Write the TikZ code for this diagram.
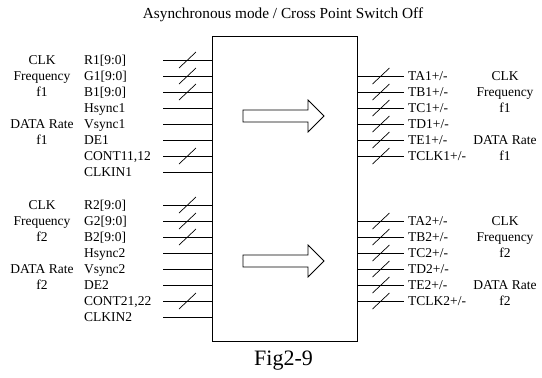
\documentclass[tikz,border=0pt]{standalone}
\usepackage{fontspec}
\setmainfont{Liberation Serif}
\begin{document}
\begin{tikzpicture}[x=1pt,y=-1pt,
  lbl/.style={inner sep=0pt,font=\fontsize{13.5}{15}\selectfont},
  wire/.style={line width=0.8pt},
  bus/.style={line width=0.7pt},
  chipbox/.style={draw,line width=0.9pt,minimum width=145pt,minimum height=305pt,inner sep=0pt},
  blockarrow/.style={draw,line width=0.8pt,fill=white}]
\useasboundingbox (0,0) rectangle (542,378);
% title
\node[inner sep=0pt,font=\fontsize{15.3}{17}\selectfont,anchor=base] (title) at (283,18.5) {Asynchronous mode / Cross Point Switch Off};
% chip
\node[chipbox,anchor=north west] (chip) at (211.5,36) {};
% caption
\node[inner sep=0pt,font=\fontsize{22}{24}\selectfont,anchor=base] (cap) at (283.5,365) {Fig2-9};
% block arrows
\draw[blockarrow] (243,110) -- (308,110) -- (308,100) -- (324,116) -- (308,132) -- (308,122) -- (243,122) -- cycle;
\draw[blockarrow] (243,255) -- (308,255) -- (308,245) -- (324,261) -- (308,277) -- (308,267) -- (243,267) -- cycle;
% inputs
\foreach \g/\y in {1/60,2/205}{
  \foreach \n/\t/\s in {0/{R\g[9:0]}/1,1/{G\g[9:0]}/1,2/{B\g[9:0]}/1,3/{Hsync\g}/0,4/{Vsync\g}/0,5/{DE\g}/0,6/{CONT\g1,\g2}/1,7/{CLKIN\g}/0}{
    \pgfmathsetmacro{\yy}{\y+16*\n}
    \coordinate (in\g-\n) at (163,\yy);
    \coordinate (inb\g-\n) at (chip.west |- in\g-\n);
    \draw[wire] (in\g-\n) -- (inb\g-\n);
    \node[lbl,anchor=base west] (inl\g-\n) at (84,\yy+4.5) {\t};
    \ifnum\s=1
      \coordinate (sl\g-\n) at (187.5,\yy);
      \draw[bus] ([shift={(-8.5,8)}]sl\g-\n) -- ([shift={(8.5,-8)}]sl\g-\n);
    \fi
  }
  % outputs
  \foreach \n/\t in {1/{TA\g+/-},2/{TB\g+/-},3/{TC\g+/-},4/{TD\g+/-},5/{TE\g+/-},6/{TCLK\g+/-}}{
    \pgfmathsetmacro{\yy}{\y+16*\n}
    \coordinate (out\g-\n) at (404,\yy);
    \coordinate (outb\g-\n) at (chip.east |- out\g-\n);
    \draw[wire] (outb\g-\n) -- (out\g-\n);
    \node[lbl,anchor=base west] (outl\g-\n) at (408,\yy+4.5) {\t};
    \coordinate (so\g-\n) at (381,\yy);
    \draw[bus] ([shift={(-8.5,8)}]so\g-\n) -- ([shift={(8.5,-8)}]so\g-\n);
  }
  % left side description
  \node[lbl,anchor=base] (lc\g-a) at (42,\y+4.5) {CLK};
  \node[lbl,anchor=base] (lc\g-b) at (42,\y+16+4.5) {Frequency};
  \node[lbl,anchor=base] (lc\g-c) at (42,\y+32+4.5) {f\g};
  \node[lbl,anchor=base] (lc\g-d) at (42,\y+64+4.5) {DATA Rate};
  \node[lbl,anchor=base] (lc\g-e) at (42,\y+80+4.5) {f\g};
  % right side description
  \node[lbl,anchor=base] (rc\g-a) at (505,\y+16+4.5) {CLK};
  \node[lbl,anchor=base] (rc\g-b) at (505,\y+32+4.5) {Frequency};
  \node[lbl,anchor=base] (rc\g-c) at (505,\y+48+4.5) {f\g};
  \node[lbl,anchor=base] (rc\g-d) at (505,\y+80+4.5) {DATA Rate};
  \node[lbl,anchor=base] (rc\g-e) at (505,\y+96+4.5) {f\g};
}
\end{tikzpicture}
\end{document}
